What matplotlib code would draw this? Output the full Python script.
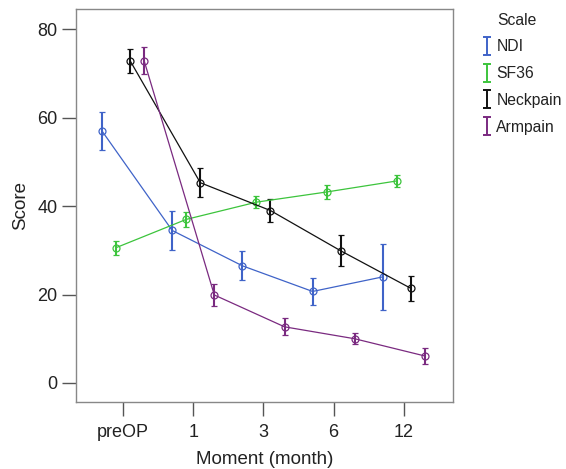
#!/usr/bin/env python3
"""Score by moment for four scales, mean with error bars."""

import numpy as np
import matplotlib.pyplot as plt
from matplotlib.lines import Line2D
from matplotlib.path import Path

plt.rcParams["font.family"] = ["Liberation Sans", "DejaVu Sans"]

moments = ["preOP", "1", "3", "6", "12"]
scales = ["NDI", "SF36", "Neckpain", "Armpain"]
colors = ["#3f63c8", "#3cc43c", "#111111", "#7a2a80"]

ndi = [57.0, 34.5, 26.5, 20.7, 24.0]
ndi_err = [4.2, 4.4, 3.3, 3.1, 7.4]
sf36 = [30.6, 37.0, 40.9, 43.2, 45.7]
sf36_err = [1.6, 1.7, 1.4, 1.5, 1.3]
neckpain = [72.9, 45.3, 39.0, 29.9, 21.4]
neckpain_err = [2.7, 3.3, 2.6, 3.5, 2.9]
armpain = [72.9, 19.9, 12.7, 10.0, 6.1]
armpain_err = [3.0, 2.4, 1.9, 1.2, 1.7]

values = [ndi, sf36, neckpain, armpain]
errors = [ndi_err, sf36_err, neckpain_err, armpain_err]
offsets = [-0.3, -0.1, 0.1, 0.3]

# I-beam glyph for the legend handles
IBEAM = Path([(-0.4, -1), (0.4, -1), (0, -1), (0, 1), (-0.4, 1), (0.4, 1)],
             [Path.MOVETO, Path.LINETO, Path.MOVETO, Path.LINETO,
              Path.MOVETO, Path.LINETO])


def main() -> None:
    fig = plt.figure(figsize=(5.66, 4.69), dpi=100)
    ax = fig.add_axes([0.1343, 0.1429, 0.6661, 0.8380])

    x = np.arange(len(moments))
    for vals, errs, col, off in zip(values, errors, colors, offsets):
        ax.errorbar(x + off, vals, yerr=errs, color=col, lw=0.9,
                    elinewidth=1.5, capsize=2, capthick=1.5,
                    marker="o", ms=5, mfc="none", mec=col, mew=0.9)

    ax.set_xlim(-0.67, 4.70)
    ax.set_ylim(-4.3, 84.6)
    ax.set_xticks(x)
    ax.set_xticklabels(moments)
    ax.set_yticks([0, 20, 40, 60, 80])
    ax.tick_params(axis="both", direction="out", length=10, width=1,
                   color="#555555", labelsize=13, pad=3.5,
                   labelcolor="#222222")
    ax.tick_params(axis="x", pad=6)
    for sp in ax.spines.values():
        sp.set_color("#888888")
        sp.set_linewidth(1.0)

    ax.set_xlabel("Moment (month)", fontsize=13.5, labelpad=7,
                  color="#222222")
    ax.set_ylabel("Score", fontsize=13.5, labelpad=6, color="#222222")

    handles = [Line2D([], [], ls="none", marker=IBEAM, ms=13, mfc="none",
                      mec=col, mew=1.4) for col in colors]
    fig.legend(handles=handles, labels=scales, loc="upper left",
               bbox_to_anchor=(0.841, 0.93), frameon=False, fontsize=11.3,
               handlelength=0.6, handletextpad=0.3, labelspacing=0.76,
               borderaxespad=0, labelcolor="#222222")
    fig.text(0.879, 0.957, "Scale", fontsize=11.3, va="center", ha="left",
             color="#222222")

    fig.savefig("out.png", dpi=100)


if __name__ == "__main__":
    main()
